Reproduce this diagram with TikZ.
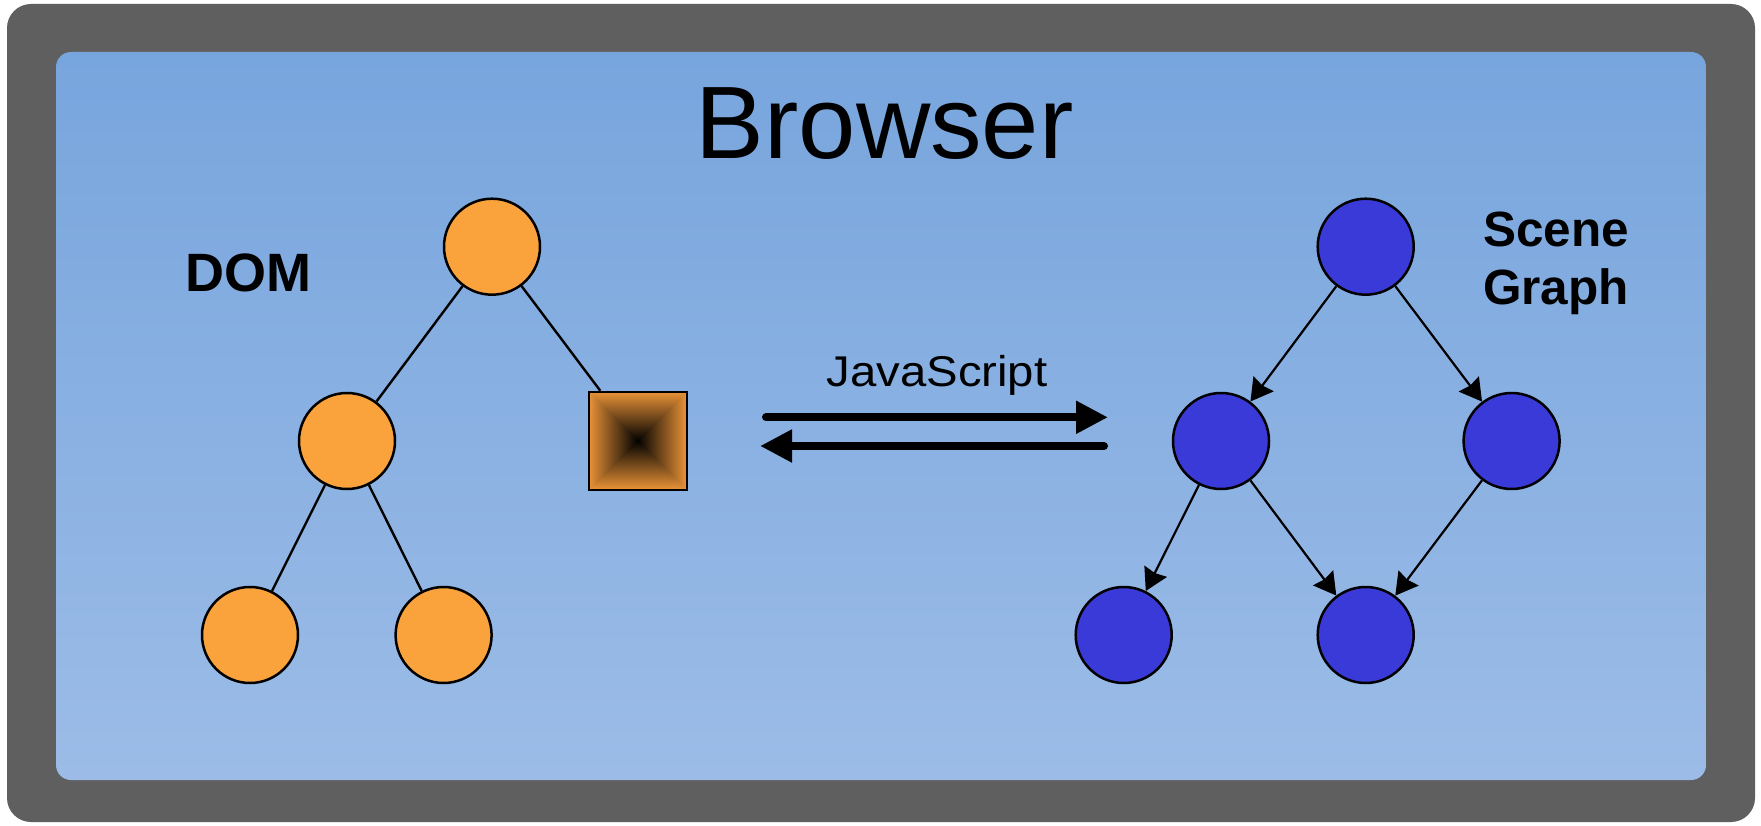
\documentclass[tikz,border=0pt]{standalone}
\usepackage{fontspec}
\setmainfont{Liberation Sans}
\usetikzlibrary{arrows.meta}

\definecolor{framegray}{HTML}{5F5F5F}
\definecolor{paneltop}{HTML}{77A5DD}
\definecolor{panelbottom}{HTML}{9CBCE7}
\definecolor{domorange}{HTML}{FAA33C}
\definecolor{sqorange}{HTML}{E89237}
\definecolor{sgblue}{HTML}{3A3AD8}

\begin{document}
\begin{tikzpicture}[
  x=1pt, y=-1pt,
  domnode/.style={circle, draw=black, line width=2.5pt, fill=domorange,
                  minimum size=96pt, inner sep=0pt},
  sgnode/.style={circle, draw=black, line width=2.5pt, fill=sgblue,
                 minimum size=96pt, inner sep=0pt},
  sqnode/.style={rectangle, draw=black, line width=2.5pt,
                 minimum size=98pt, inner sep=0pt},
  treeedge/.style={line width=2.4pt, draw=black},
  sgedge/.style={line width=2.2pt, draw=black,
                 -{Stealth[length=22pt, width=25pt, inset=2pt]}},
  jsarrow/.style={line width=8pt, draw=black, line cap=round,
                  -{Triangle[length=32pt, width=31pt]}},
  title/.style={font=\fontsize{103}{120}\selectfont, inner sep=0pt},
  boldlabel/.style={font=\bfseries\fontsize{#1}{58.3}\selectfont, inner sep=0pt},
]
\useasboundingbox (0,0) rectangle (1761,826);
\fill[white] (0,0) rectangle (1761,826);

% window frame and shaded panel
\fill[framegray, rounded corners=24pt] (7,4) rectangle (1755,822);
\shade[top color=paneltop, bottom color=panelbottom, rounded corners=15pt]
  (56,52) rectangle (1706,780);

% title
\node[title, anchor=base] (browser) at (884.7,159) {Browser};

% DOM tree
\node[boldlabel=54, anchor=base west] (domlabel) at (185,291.7) {DOM};
\node[domnode] (d1) at (492,246.7) {};
\node[domnode] (d2) at (347,441) {};
\node[domnode] (d3) at (250,635) {};
\node[domnode] (d4) at (443.6,635) {};

% pyramid-shaded square element
\foreach \s in {49,48,...,1} {
  \pgfmathsetmacro\p{100*\s/49}
  \fill[sqorange!\p!black] (638-\s,441-\s) rectangle (638+\s,441+\s);
}
\node[sqnode] (sq) at (638,441) {};

\draw[treeedge] (d1) -- (d2);
\draw[treeedge] (d1) -- (sq);
\draw[treeedge] (d2) -- (d3);
\draw[treeedge] (d2) -- (d4);

% JavaScript bridge
\node[inner sep=0pt, anchor=base, font=\fontsize{43}{50}\selectfont]
  (js) at (937,386.7) {\scalebox{1.1}[1]{JavaScript}};
\coordinate (jsLa) at (766,417.3);
\coordinate (jsRa) at (1108,417.3);
\coordinate (jsRb) at (1104,446);
\coordinate (jsLb) at (760,446);
\draw[jsarrow] (jsLa) -- (jsRa);
\draw[jsarrow] (jsRb) -- (jsLb);

% scene graph
\node[boldlabel=49.5, anchor=base west, align=left] (sglabel) at (1483,305)
  {Scene\\Graph};
\node[sgnode] (s1) at (1365.7,246.7) {};
\node[sgnode] (s2) at (1221,441) {};
\node[sgnode] (s3) at (1511.6,441) {};
\node[sgnode] (s4) at (1123.7,635) {};
\node[sgnode] (s5) at (1365.7,635) {};

\draw[sgedge] (s1) -- (s2);
\draw[sgedge] (s1) -- (s3);
\draw[sgedge] (s2) -- (s4);
\draw[sgedge] (s2) -- (s5);
\draw[sgedge] (s3) -- (s5);
\end{tikzpicture}
\end{document}
